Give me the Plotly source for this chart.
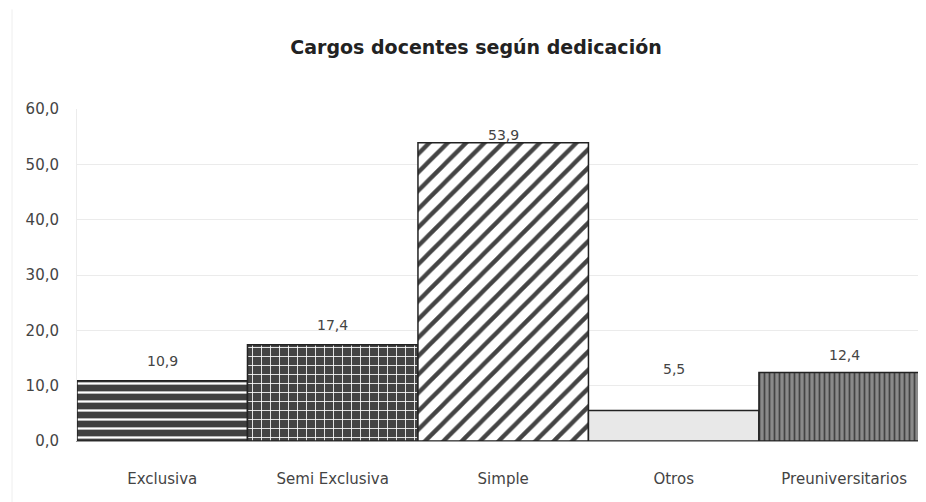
import plotly.graph_objects as go

categories = ["Exclusiva", "Semi Exclusiva", "Simple", "Otros", "Preuniversitarios"]
values = [10.9, 17.4, 53.9, 5.5, 12.4]
value_labels = ["10,9", "17,4", "53,9", "5,5", "12,4"]
y_ticks = [0, 10, 20, 30, 40, 50, 60]
y_tick_labels = ["0,0", "10,0", "20,0", "30,0", "40,0", "50,0", "60,0"]

# styling per bar
pat_shapes = ["-", "+", "/", "", "|"]
bar_bg = ["#404040", "#444444", "#ffffff", "#e8e8e8", "#8a8a8a"]
pat_fg = ["#8a8a8a", "#969696", "#4a4a4a", "#e8e8e8", "#d8d8d8"]
pat_size = [9, 9, 13, 8, 5]
pat_solid = [0.25, 0.18, 0.33, 0.3, 0.35]
label_shift = [20, 20, 8, 42, 17]

FONT = "DejaVu Sans, Verdana, sans-serif"

x_pos = list(range(len(categories)))

fig = go.Figure()
fig.add_trace(go.Bar(
    x=x_pos,
    y=values,
    width=1.0,
    marker=dict(
        color=bar_bg,
        line=dict(color="#222222", width=1.5),
        pattern=dict(shape=pat_shapes, fgcolor=pat_fg, fgopacity=1,
                     size=pat_size, solidity=pat_solid, fillmode="overlay"),
    ),
    hoverinfo="skip",
))

for xi, v, t, s in zip(x_pos, values, value_labels, label_shift):
    fig.add_annotation(x=xi, y=v, text=t, showarrow=False, yshift=s,
                       yanchor="middle",
                       font=dict(family=FONT, size=14, color="#444444"))

# page body has an 8px margin, so the figure is offset by (8, 8)
fig.update_layout(
    width=926, height=502,
    margin=dict(l=69, r=8, t=101, b=69),
    paper_bgcolor="white", plot_bgcolor="white",
    showlegend=False,
    title=dict(text="<b>Cargos docentes según dedicación</b>",
               x=468 / 926, xanchor="center", xref="container",
               y=1 - 39 / 502, yanchor="middle", yref="container",
               font=dict(family=FONT, size=19, color="#222222")),
    font=dict(family=FONT, color="#444444"),
)

fig.update_xaxes(
    range=[-0.5, 4.48],
    tickmode="array", tickvals=x_pos, ticktext=categories,
    tickfont=dict(size=15, color="#444444"),
    ticks="outside", ticklen=24, tickcolor="rgba(0,0,0,0)",
    showgrid=False, zeroline=False,
    showline=True, linecolor="#9a9a9a", linewidth=1,
)
fig.update_yaxes(
    range=[0, 60],
    tickmode="array", tickvals=y_ticks, ticktext=y_tick_labels,
    tickfont=dict(size=15, color="#444444"),
    ticks="outside", ticklen=14, tickcolor="rgba(0,0,0,0)",
    showgrid=True, gridcolor="#ebebeb", gridwidth=1,
    zeroline=False,
    showline=True, linecolor="#ececec", linewidth=1,
)

# faint outer chart frame line on the left
fig.add_shape(type="line", xref="paper", yref="paper",
              x0=-65 / 849, x1=-65 / 849, y0=-0.3, y1=1.3,
              line=dict(color="#eeeeee", width=1))

fig.write_html("out.html")
